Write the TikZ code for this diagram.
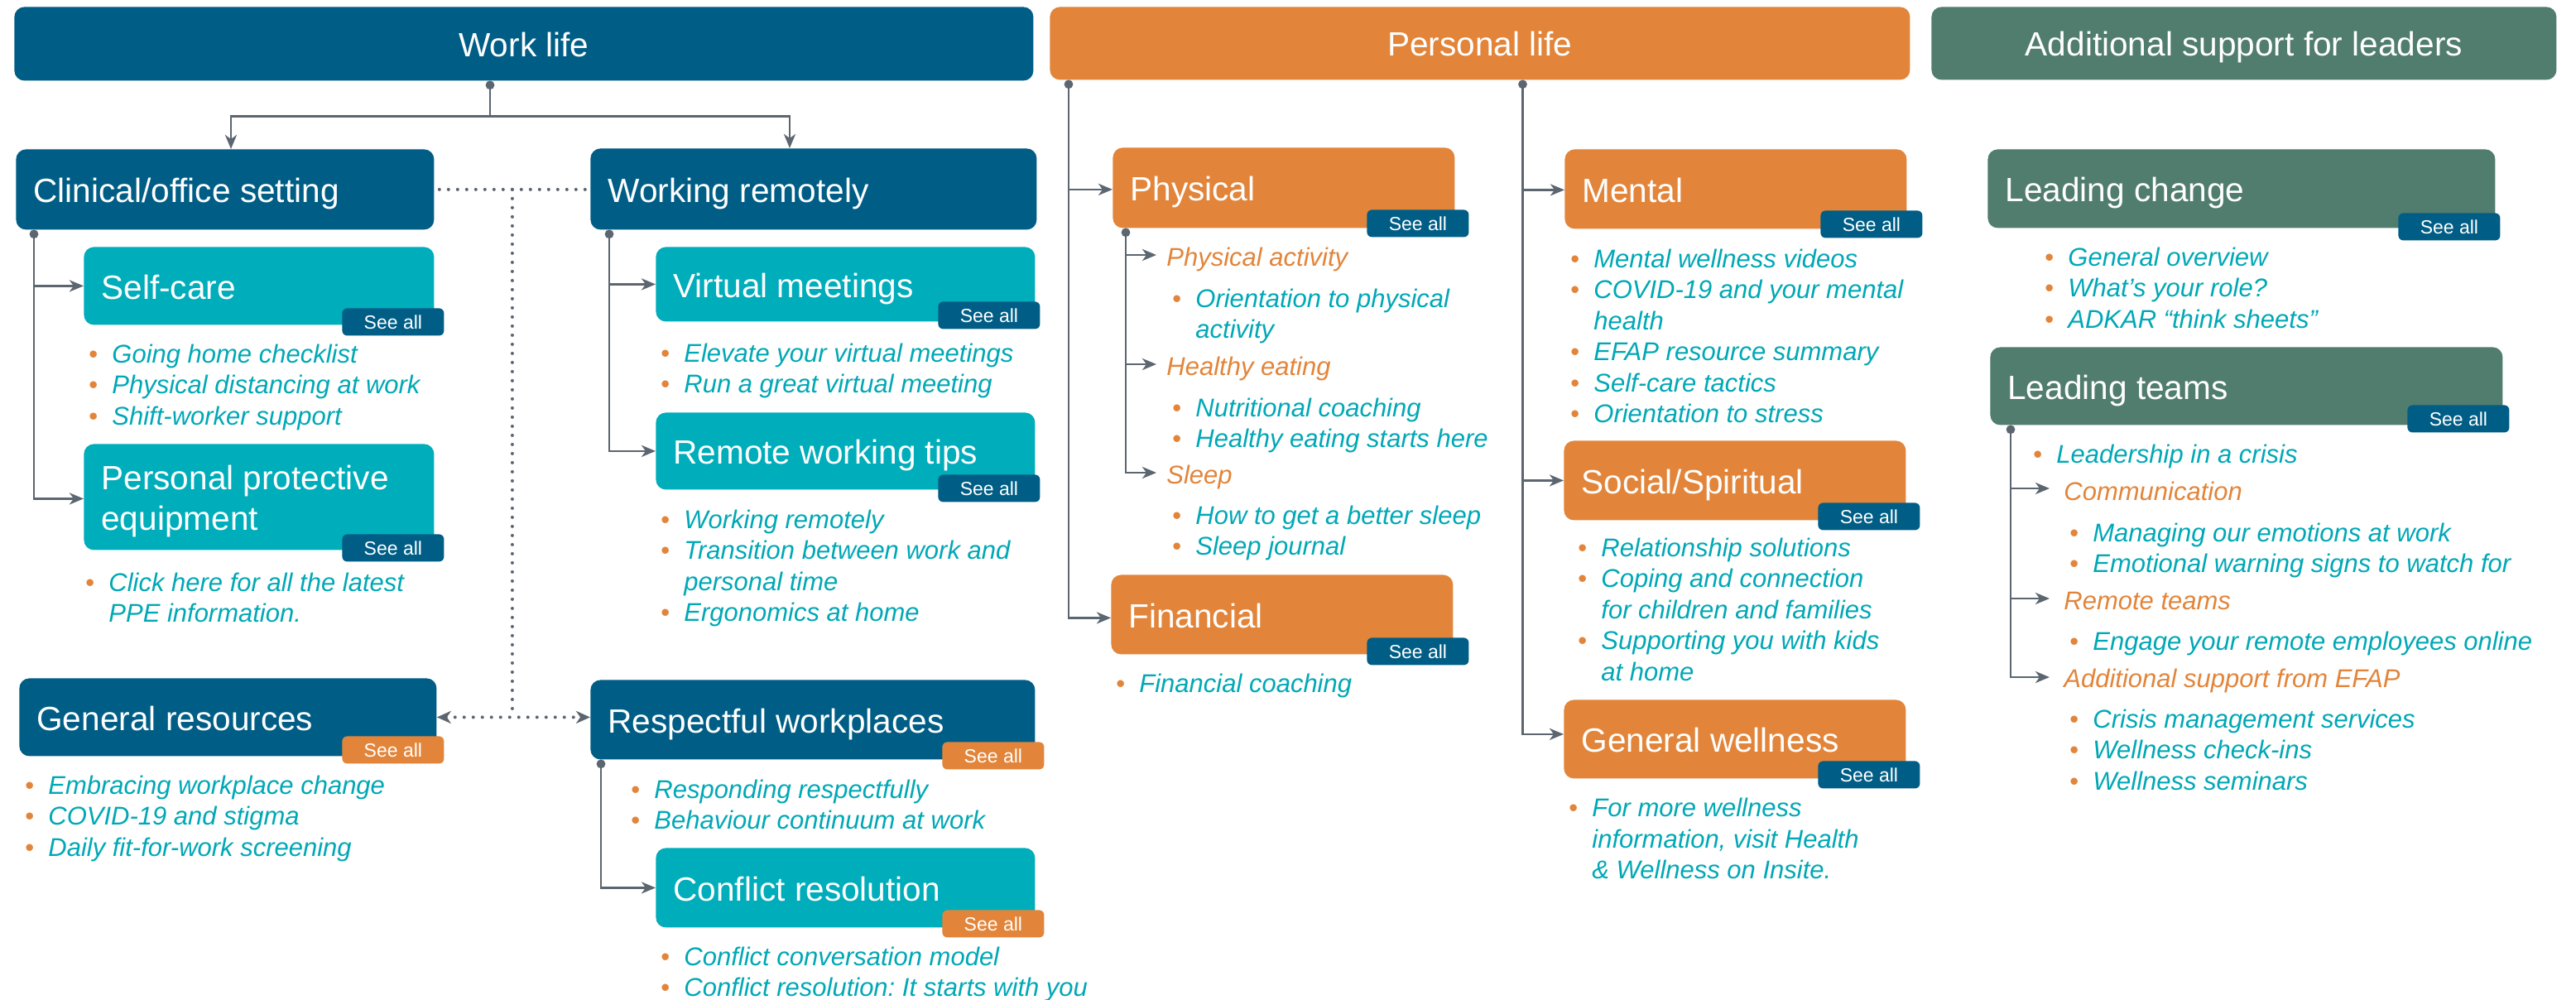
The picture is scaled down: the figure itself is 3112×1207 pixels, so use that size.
\documentclass[tikz,border=0pt]{standalone}
\usepackage{fontspec}
\setmainfont{Liberation Sans}
\usetikzlibrary{arrows.meta,calc}
\frenchspacing

\definecolor{navy}{HTML}{005E86}
\definecolor{amber}{HTML}{E2853A}
\definecolor{sage}{HTML}{517D6E}
\definecolor{aqua}{HTML}{00ADBA}
\definecolor{aquatext}{HTML}{00A8B6}
\definecolor{slate}{HTML}{5C6670}

% bullet marker, hanging indent and first-line strut for item lists
\newcommand\bul{\makebox[14pt][l]{\textcolor{amber}{\upshape\textbullet}}}
\newcommand\ind{\hspace*{14pt}}
\newcommand\lstrut{\rule{0pt}{12pt}}

% rounded card given by its corners (name, fill, x1, y1, x2, y2)
\newcommand\card[6]{%
  \pgfmathsetmacro\cardW{(#5-#3)*0.5}%
  \pgfmathsetmacro\cardH{(#6-#4)*0.5}%
  \node[card, fill=#2, anchor=north west, minimum width=\cardW pt,
        minimum height=\cardH pt] (#1) at (#3,#4) {};}
% single-line card title
\newcommand\cardtitle[2]{%
  \node[ttl, anchor=base west] (#1-t) at ($(#1.west)+(21,16)$) {#2};}
% "See all" tab (name, fill, x1, y1)
\newcommand\seeall[4]{\node[badge, fill=#2] (#1) at (#3,#4) {See all};}

\tikzset{
  card/.style={rounded corners=6pt, inner sep=0pt},
  ttl/.style={text=white, inner sep=0pt, font=\fontsize{20.3}{24.5}\selectfont},
  badge/.style={rounded corners=3pt, inner sep=0pt, text=white, anchor=north west,
    minimum width=61.5pt, minimum height=16.5pt, text height=8.3pt, text depth=0pt,
    font=\fontsize{11.5}{13}\selectfont},
  items/.style={anchor=north west, inner sep=0pt, align=left, text=aquatext,
    font=\fontsize{15.5}{18.7}\selectfont\itshape},
  subhead/.style={anchor=base west, inner sep=0pt, text=amber,
    font=\fontsize{15.5}{18.7}\selectfont\itshape},
  conn/.style={draw=slate, line width=1.4pt},
  arrowend/.style={-{Stealth[length=8.5pt,width=7pt,inset=2.5pt]}},
  dotline/.style={draw=slate, line width=2pt, line cap=round, dash pattern=on 0pt off 5.5pt},
  knob/.style={fill=slate},
}

\begin{document}
\begin{tikzpicture}[x=0.5pt, y=-0.5pt]
\fill[white] (0,0) rectangle (3112,1207);
\useasboundingbox (0,0) rectangle (3112,1207);

% ---------- column headers ----------
\card{work}{navy}{17}{8}{1248}{97}
\node[ttl, anchor=base] (work-t) at ($(work.center)+(0,15.5)$) {Work life};
\card{pers}{amber}{1268}{8}{2307}{96}
\node[ttl, anchor=base] (pers-t) at ($(pers.center)+(0,15.5)$) {Personal life};
\card{lead}{sage}{2333}{8}{3088}{96}
\node[ttl, anchor=base] (lead-t) at ($(lead.center)+(0,15.5)$) {Additional support for leaders};

% ---------- work life ----------
\card{clin}{navy}{19}{180}{524}{277}
\cardtitle{clin}{Clinical/office setting}
\card{remote}{navy}{713}{179}{1252}{277}
\cardtitle{remote}{Working remotely}

\card{self}{aqua}{101}{298}{524}{392}
\cardtitle{self}{Self-care}
\seeall{self-s}{navy}{413}{372}
\node[items] (self-l) at (107,414) {\lstrut\bul Going home checklist\\
  \bul Physical distancing at work\\ \bul Shift-worker support};

\card{ppe}{aqua}{101}{536}{524}{664}
\node[ttl, anchor=west, align=left] (ppe-t) at ($(ppe.west)+(21,5)$) {Personal protective\\equipment};
\seeall{ppe-s}{navy}{413}{645}
\node[items] (ppe-l) at (103,690) {\lstrut\bul Click here for all the latest\\
  \ind PPE information.};

\card{genres}{navy}{23}{819}{527}{913}
\cardtitle{genres}{General resources}
\seeall{genres-s}{amber}{413}{889}
\node[items] (genres-l) at (30,935) {\lstrut\bul Embracing workplace change\\
  \bul COVID-19 and stigma\\ \bul Daily fit-for-work screening};

\card{virt}{aqua}{792}{298}{1250}{388}
\cardtitle{virt}{Virtual meetings}
\seeall{virt-s}{navy}{1133}{364}
\node[items] (virt-l) at (798,413) {\lstrut\bul Elevate your virtual meetings\\
  \bul Run a great virtual meeting};

\card{tips}{aqua}{792}{498}{1250}{591}
\cardtitle{tips}{Remote working tips}
\seeall{tips-s}{navy}{1133}{573}
\node[items] (tips-l) at (798,614) {\lstrut\bul Working remotely\\
  \bul Transition between work and\\ \ind personal time\\ \bul Ergonomics at home};

\card{resp}{navy}{713}{821}{1250}{917}
\cardtitle{resp}{Respectful workplaces}
\seeall{resp-s}{amber}{1138}{896}
\node[items] (resp-l) at (762,940) {\lstrut\bul Responding respectfully\\
  \bul Behaviour continuum at work};

\card{confl}{aqua}{792}{1024}{1250}{1120}
\cardtitle{confl}{Conflict resolution}
\seeall{confl-s}{amber}{1138}{1099}
\node[items] (confl-l) at (798,1142) {\lstrut\bul Conflict conversation model\\
  \bul Conflict resolution: It starts with you};

% ---------- personal life ----------
\card{phys}{amber}{1344}{178}{1757}{275}
\cardtitle{phys}{Physical}
\seeall{phys-s}{navy}{1651}{253}
\node[subhead] (pa-t) at (1409,321) {Physical activity};
\node[items] (pa-l) at (1416,347) {\lstrut\bul Orientation to physical\\ \ind activity};
\node[subhead] (he-t) at (1409,453) {Healthy eating};
\node[items] (he-l) at (1416,479) {\lstrut\bul Nutritional coaching\\
  \bul Healthy eating starts here};
\node[subhead] (sl-t) at (1409,584) {Sleep};
\node[items] (sl-l) at (1416,609) {\lstrut\bul How to get a better sleep\\
  \bul Sleep journal};

\card{fin}{amber}{1342}{694}{1755}{790}
\cardtitle{fin}{Financial}
\seeall{fin-s}{navy}{1651}{770}
\node[items] (fin-l) at (1348,812) {\lstrut\bul Financial coaching};

\card{mental}{amber}{1890}{180}{2303}{276}
\cardtitle{mental}{Mental}
\seeall{mental-s}{navy}{2199}{254}
\node[items] (mental-l) at (1897,299) {\lstrut\bul Mental wellness videos\\
  \bul COVID-19 and your mental\\ \ind health\\ \bul EFAP resource summary\\
  \bul Self-care tactics\\ \bul Orientation to stress};

\card{social}{amber}{1889}{532}{2302}{628}
\cardtitle{social}{Social/Spiritual}
\seeall{social-s}{navy}{2196}{607}
\node[items] (social-l) at (1906,648) {\lstrut\bul Relationship solutions\\
  \bul Coping and connection\\ \ind for children and families\\
  \bul Supporting you with kids\\ \ind at home};

\card{wellness}{amber}{1889}{845}{2302}{940}
\cardtitle{wellness}{General wellness}
\seeall{wellness-s}{navy}{2196}{919}
\node[items] (wellness-l) at (1895,962.5) {\lstrut\bul For more wellness\\
  \ind information, visit Health\\ \ind \& Wellness on Insite.};

% ---------- leaders ----------
\card{change}{sage}{2401}{180}{3014}{275}
\cardtitle{change}{Leading change}
\seeall{change-s}{navy}{2897}{257}
\node[items] (change-l) at (2470,297) {\lstrut\bul General overview\\
  \bul What’s your role?\\ \bul ADKAR “think sheets”};

\card{teams}{sage}{2404}{419}{3023}{513}
\cardtitle{teams}{Leading teams}
\seeall{teams-s}{navy}{2908}{489}
\node[items] (crisis-l) at (2456,535) {\lstrut\bul Leadership in a crisis};
\node[subhead] (comm-t) at (2493,604) {Communication};
\node[items] (comm-l) at (2500,630) {\lstrut\bul Managing our emotions at work\\
  \bul Emotional warning signs to watch for};
\node[subhead] (rt-t) at (2493,736) {Remote teams};
\node[items] (rt-l) at (2500,761) {\lstrut\bul Engage your remote employees online};
\node[subhead] (ef-t) at (2493,830) {Additional support from EFAP};
\node[items] (ef-l) at (2500,855) {\lstrut\bul Crisis management services\\
  \bul Wellness check-ins\\ \bul Wellness seminars};

% ---------- connectors: work life ----------
\coordinate (wl-d) at ($(work.south west)+(575,0)$);
\coordinate (wl-j) at ($(wl-d)+(0,43)$);
\draw[conn] (wl-d) -- (wl-j);
\draw[conn,arrowend] (wl-j) -| ($(clin.north west)+(260,0)$);
\draw[conn,arrowend] (wl-j) -| ($(remote.north west)+(241,0)$);
\fill[knob] ($(wl-d)+(0,5)$) circle (2.7pt);

\coordinate (cl-d) at ($(clin.south west)+(22,0)$);
\draw[conn,arrowend] (cl-d) |- (self.west);
\draw[conn,arrowend] (cl-d) |- ($(ppe.west)+(0,2)$);
\fill[knob] ($(cl-d)+(0,5)$) circle (2.7pt);

\coordinate (wr-d) at ($(remote.south west)+(23,0)$);
\draw[conn,arrowend] (wr-d) |- (virt.west);
\draw[conn,arrowend] (wr-d) |- (tips.west);
\fill[knob] ($(wr-d)+(0,5)$) circle (2.7pt);

\coordinate (rs-d) at ($(resp.south west)+(13,0)$);
\draw[conn,arrowend] (rs-d) |- (confl.west);
\fill[knob] ($(rs-d)+(0,5)$) circle (2.7pt);

% dotted links between the work-life groups
\draw[dotline] ($(clin.east)+(6,0)$) -- ($(clin.east -| remote.west)+(-4,0)$);
\coordinate (dl-top) at ($(clin.east)!0.5!(clin.east -| remote.west)$);
\coordinate (dl-bot) at (dl-top |- genres.east);
\draw[dotline] (dl-top) -- (dl-bot);
\draw[dotline, {Stealth[length=8.5pt,width=7.5pt,inset=2.5pt]}-{Stealth[length=8.5pt,width=7.5pt,inset=2.5pt]}]
  (genres.east) -- (genres.east -| resp.west);

% ---------- connectors: personal life ----------
\coordinate (pl-a) at ($(pers.south west)+(23,0)$);
\coordinate (pl-b) at ($(pers.south west)+(571.5,0)$);
\draw[conn,arrowend] (pl-a) |- ($(phys.west)+(0,2)$);
\draw[conn,arrowend] (pl-a) |- ($(fin.west)+(0,4)$);
\draw[conn,arrowend] (pl-b) |- ($(mental.west)+(0,1)$);
\draw[conn,arrowend] (pl-b) |- (social.west);
\draw[conn,arrowend] (pl-b) |- ($(wellness.west)+(0,-6)$);
\fill[knob] ($(pl-a)+(0,5)$) circle (2.7pt);
\fill[knob] ($(pl-b)+(0,5)$) circle (2.7pt);

\coordinate (ph-d) at ($(phys.south west)+(16,0)$);
\draw[conn,arrowend] (ph-d) |- ($(pa-t.base west)+(-12,-13)$);
\draw[conn,arrowend] (ph-d) |- ($(he-t.base west)+(-12,-13)$);
\draw[conn,arrowend] (ph-d) |- ($(sl-t.base west)+(-12,-13)$);
\fill[knob] ($(ph-d)+(0,5)$) circle (2.7pt);

% ---------- connectors: leaders ----------
\coordinate (lt-d) at ($(teams.south west)+(25,0)$);
\draw[conn,arrowend] (lt-d) |- ($(comm-t.base west)+(-17,-14)$);
\draw[conn,arrowend] (lt-d) |- ($(rt-t.base west)+(-17,-13)$);
\draw[conn,arrowend] (lt-d) |- ($(ef-t.base west)+(-17,-12)$);
\fill[knob] ($(lt-d)+(0,5)$) circle (2.7pt);

\end{tikzpicture}
\end{document}
